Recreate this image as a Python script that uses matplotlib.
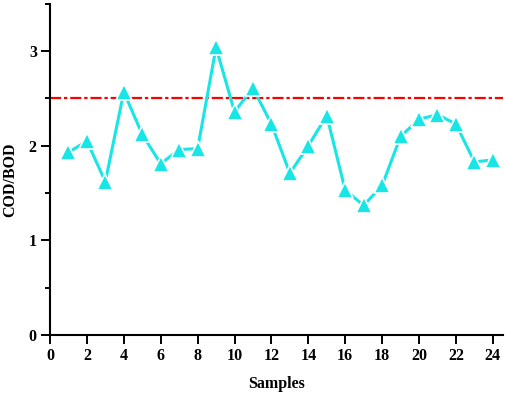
import matplotlib
matplotlib.use("Agg")
import matplotlib.pyplot as plt
from matplotlib.ticker import MultipleLocator

samples = list(range(1, 25))
cod_bod = [1.93, 2.05, 1.62, 2.57, 2.12, 1.81, 1.96, 1.97, 3.04, 2.36, 2.61, 2.23,
           1.71, 2.00, 2.32, 1.53, 1.37, 1.58, 2.10, 2.28, 2.33, 2.23, 1.83, 1.85]
threshold = 2.5
xticks = list(range(0, 25, 2))
yticks = [0, 1, 2, 3]

plt.rcParams['font.family'] = ['Liberation Serif', 'DejaVu Serif']
plt.rcParams['font.weight'] = 'bold'

fig = plt.figure(figsize=(5.05, 3.94), dpi=100)
ax = fig.add_axes([0.099, 0.150, 0.897, 0.840])

ax.axhline(threshold, color='#FF0000', lw=1.6, ls=(0, (5, 1.3, 1.5, 1.3)), zorder=1)
ax.plot(samples, cod_bod, color='#18E6E6', lw=2.2, marker='^', ms=11.5,
        mfc='#18E6E6', mec='white', mew=1.2, zorder=3)

ax.set_xlim(0, 24.55)
ax.set_ylim(0, 3.5)
ax.set_xticks(xticks)
ax.set_yticks(yticks)
ax.yaxis.set_minor_locator(MultipleLocator(0.5))

for s in ['top', 'right']:
    ax.spines[s].set_visible(False)
for s in ['left', 'bottom']:
    ax.spines[s].set_linewidth(1.5)

ax.tick_params(axis='both', which='major', direction='out', length=6.5, width=1.4,
               labelsize=11.5, pad=3)
ax.tick_params(axis='y', which='minor', direction='out', length=3.5, width=1.4)
for lab in ax.get_xticklabels() + ax.get_yticklabels():
    lab.set_fontweight('bold')

ax.set_xlabel('Samples', fontsize=11.5, fontweight='bold')
ax.set_ylabel('COD/BOD', fontsize=11.5, fontweight='bold')
ax.xaxis.set_label_coords(0.5, -0.125)
ax.yaxis.set_label_coords(-0.071, 0.47)

fig.savefig('out.png', dpi=100)
